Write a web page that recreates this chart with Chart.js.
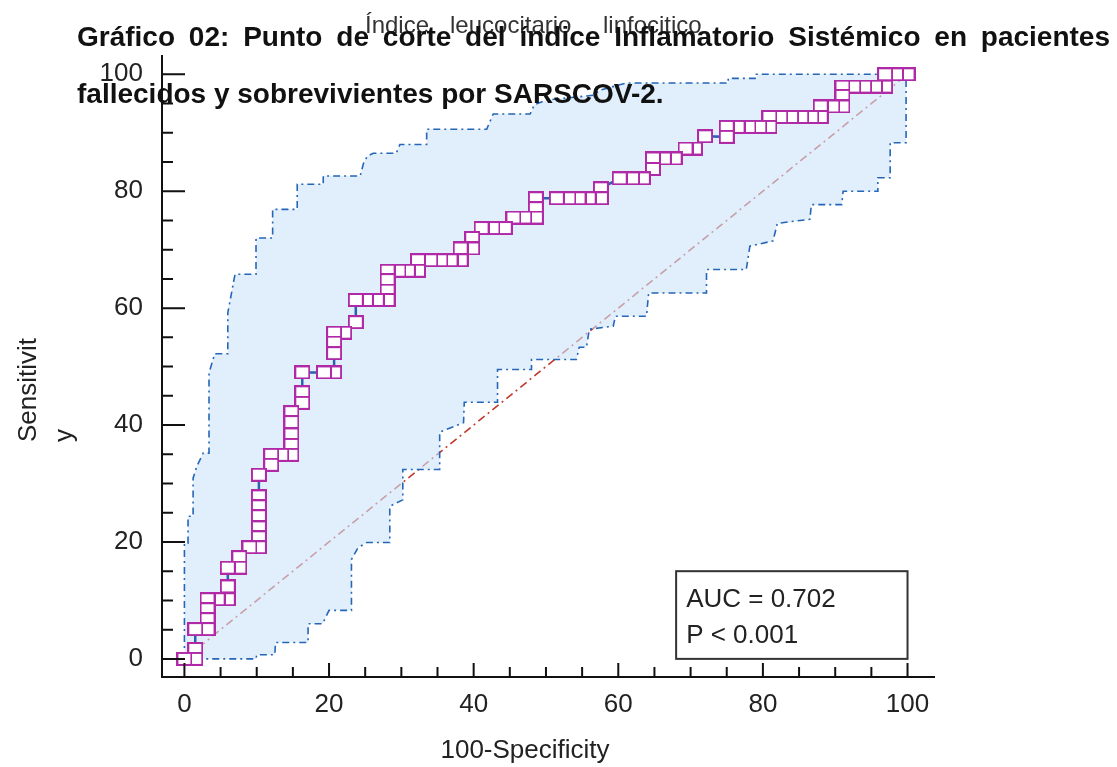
<!DOCTYPE html>
<html>
<head>
<meta charset="utf-8">
<script src="https://cdn.jsdelivr.net/npm/chart.js@4.4.1/dist/chart.umd.min.js"></script>
<style>
  html, body { margin: 0; padding: 0; background: #fff; }
  #wrap { width: 1117px; height: 767px; position: relative; }
</style>
</head>
<body>
<div id="wrap"><canvas id="rocChart"></canvas></div>
<script>
// Curva ROC: 100-Especificidad / Sensibilidad
const rocFpr = [0, 1.5, 1.5, 1.5, 3.2, 3.2, 3.2, 3.2, 4.6, 6.0, 6.0, 6.0, 7.6, 7.6, 9.0,
  10.3, 10.3, 10.3, 10.3, 10.3, 10.3, 10.3, 12.0, 12.0, 13.4, 14.8, 14.8, 14.8, 14.8, 14.8,
  16.3, 16.3, 16.3, 19.3, 20.7, 20.7, 20.7, 20.7, 22.1, 23.7, 23.7, 25.1, 26.6,
  28.1, 28.1, 28.1, 28.1, 29.6, 30.9, 32.3, 32.3, 34.0, 35.4, 36.8, 38.2, 38.2, 39.8, 39.8,
  41.1, 42.6, 44.3, 45.5, 47.0, 48.6, 48.6, 48.6, 51.5, 53.1, 54.5, 55.9, 57.6, 57.6,
  60.2, 61.9, 63.4, 64.8, 64.8, 66.3, 67.8, 69.3, 70.6, 72.0, 75.0, 75.0, 76.5, 78.0, 79.5,
  80.9, 80.9, 82.4, 83.9, 85.3, 86.7, 88.0, 88.0, 89.6, 91.0, 91.0, 91.0, 92.5, 94.0, 95.5,
  96.9, 96.9, 98.4, 100];
const rocSens = [0, 0, 1.7, 5.1, 5.1, 6.8, 8.5, 10.2, 10.2, 10.2, 12.4, 15.6, 15.6, 17.4, 19.1,
  19.1, 20.8, 22.5, 24.4, 26.1, 27.8, 31.5, 33.2, 34.9, 34.9, 34.9, 36.6, 38.4, 40.5, 42.2,
  43.8, 45.6, 49.0, 49.0, 49.0, 52.3, 54.1, 55.8, 55.8, 57.6, 61.4, 61.4, 61.4,
  61.4, 63.0, 64.8, 66.4, 66.4, 66.4, 66.4, 68.2, 68.2, 68.2, 68.2, 68.2, 70.2, 70.2, 72.0,
  73.7, 73.7, 73.7, 75.5, 75.5, 75.5, 77.1, 78.8, 78.8, 78.8, 78.8, 78.8, 78.8, 80.5,
  82.2, 82.2, 82.2, 83.8, 85.6, 85.6, 85.6, 87.3, 87.3, 89.4, 89.3, 91.0, 91.0, 91.0, 91.0,
  91.0, 92.7, 92.7, 92.7, 92.7, 92.7, 92.7, 94.5, 94.5, 94.5, 96.3, 97.9, 97.9, 97.9, 97.9,
  97.9, 100, 100, 100];

// Intervalo de confianza 95% (límite superior e inferior)
const upperX = [0, 0, 0.5, 0.5, 1.2, 1.2, 1.7, 2.6, 3.4, 3.4, 4.2, 6.0, 6.0, 7.0, 9.9, 9.9,
  12.2, 12.2, 15.6, 15.6, 19.2, 19.2, 24.3, 24.8, 25.3, 26.1, 29.3, 29.8, 33.5, 33.5,
  41.8, 42.7, 47.8, 48.4, 50.1, 56.5, 57.5, 61.1, 75.2, 75.2, 79.1, 79.1, 100];
const upperY = [0, 19.8, 19.8, 24.4, 24.4, 30.9, 32.9, 35.2, 35.2, 48.9, 52.2, 52.2, 59.2, 65.8,
  65.8, 72.0, 72.0, 76.9, 76.9, 81.2, 81.2, 82.6, 82.6, 84.9, 86.0, 86.5, 86.5, 88.0, 88.0,
  90.6, 90.6, 93.2, 93.2, 94.8, 95.6, 96.4, 97.3, 98.5, 98.5, 99.3, 99.3, 100, 100];
const lowerX = [0, 9.9, 10.0, 12.5, 12.6, 17.1, 17.1, 19.1, 20.0, 23.1, 23.1, 24.0, 25.2, 28.4,
  28.4, 30.2, 30.2, 35.3, 35.3, 38.6, 38.7, 43.3, 43.3, 48.0, 48.0, 54.2, 54.6, 55.6, 56.0,
  59.3, 59.6, 63.9, 64.2, 72.2, 72.2, 77.7, 78.2, 81.4, 82.0, 86.5, 86.7, 90.9, 91.1, 95.9,
  95.9, 97.6, 97.6, 99.8, 99.8, 100];
const lowerY = [0, 0, 0.7, 0.7, 2.8, 2.8, 6.0, 6.0, 8.3, 8.3, 17.0, 19.0, 19.9, 19.9, 26.1,
  27.2, 32.4, 32.4, 38.8, 40.4, 43.9, 43.9, 49.5, 49.5, 51.2, 51.2, 53.3, 53.3, 56.4, 56.9,
  58.6, 58.6, 62.6, 62.6, 66.6, 66.6, 70.6, 71.5, 74.5, 75.2, 77.7, 77.7, 80.0, 80.0, 82.3,
  82.3, 88.3, 88.3, 100, 100];

// Diagonal de referencia
const diagX = [0, 100];
const diagY = [0, 100];

// Etiquetas de los ejes
const tickValues = [0, 20, 40, 60, 80, 100];
const minorStep = 5;

const AUC_TEXT = "AUC = 0.702";
const P_TEXT = "P < 0.001";

const COLORS = {
  marker: "#b02aa8",
  rocLine: "#2a62b0",
  band: "rgba(205, 228, 252, 0.6)",
  bandBorder: "#2566b8",
  diag: "#c0392b",
  axis: "#111",
  text: "#222",
};

const FONT = "'Liberation Sans', Arial, sans-serif";

function toPoints(xs, ys) {
  return xs.map((x, i) => ({ x: x, y: ys[i] }));
}

// marcador cuadrado (16x14) blanco con borde magenta
function makeMarker() {
  const c = document.createElement("canvas");
  c.width = 16;
  c.height = 14;
  const g = c.getContext("2d");
  g.fillStyle = "#fff";
  g.fillRect(1, 1, 14, 12);
  g.strokeStyle = COLORS.marker;
  g.lineWidth = 2;
  g.strokeRect(1, 1, 14, 12);
  return c;
}

// se dibuja de arriba-derecha a abajo-izquierda para que los cuadros se solapen igual
const rocPoints = toPoints(rocFpr, rocSens).reverse();
const bandPoints = toPoints(upperX, upperY).concat(toPoints(lowerX, lowerY).reverse());

function drawJustified(ctx, words, x0, x1, y) {
  const widths = words.map((w) => ctx.measureText(w).width);
  const total = widths.reduce((a, b) => a + b, 0);
  const gap = (x1 - x0 - total) / (words.length - 1);
  let x = x0;
  words.forEach((w, i) => {
    ctx.fillText(w, x, y);
    x += widths[i] + gap;
  });
}

const decoPlugin = {
  id: "deco",
  afterDraw(chart) {
    const ctx = chart.ctx;
    const area = chart.chartArea;
    const xs = chart.scales.x;
    const ys = chart.scales.y;
    ctx.save();

    // ejes
    ctx.strokeStyle = COLORS.axis;
    ctx.lineWidth = 2;
    ctx.beginPath();
    ctx.moveTo(area.left, area.top);
    ctx.lineTo(area.left, area.bottom);
    ctx.lineTo(area.right, area.bottom);
    ctx.stroke();

    // marcas hacia dentro
    ctx.lineWidth = 2;
    ctx.beginPath();
    for (let v = 0; v <= 100; v += minorStep) {
      const major = tickValues.includes(v);
      const px = xs.getPixelForValue(v);
      ctx.moveTo(px, area.bottom);
      ctx.lineTo(px, area.bottom - (major ? 14 : 10));
      const py = ys.getPixelForValue(v);
      ctx.moveTo(area.left, py);
      ctx.lineTo(area.left + (major ? 23 : 11), py);
    }
    ctx.stroke();

    // cuadro AUC
    const bx0 = xs.getPixelForValue(68);
    const bx1 = xs.getPixelForValue(100);
    const by0 = ys.getPixelForValue(15);
    const by1 = ys.getPixelForValue(0);
    ctx.fillStyle = "#fff";
    ctx.fillRect(bx0, by0, bx1 - bx0, by1 - by0);
    ctx.strokeStyle = "#333";
    ctx.lineWidth = 2;
    ctx.strokeRect(bx0, by0, bx1 - bx0, by1 - by0);
    ctx.fillStyle = COLORS.text;
    ctx.font = "26px " + FONT;
    ctx.textBaseline = "alphabetic";
    ctx.textAlign = "left";
    ctx.fillText(AUC_TEXT, bx0 + 10, by0 + 36);
    ctx.fillText(P_TEXT, bx0 + 10, by0 + 72);

    // títulos de los ejes
    ctx.font = "26px " + FONT;
    ctx.textAlign = "center";
    ctx.fillText("100-Specificity", 525, 758);
    ctx.save();
    ctx.translate(36, 442);
    ctx.rotate(-Math.PI / 2);
    ctx.textAlign = "left";
    ctx.fillText("Sensitivit", 0, 0);
    ctx.fillText("y", 0, 36);
    ctx.restore();

    // título original del gráfico (queda debajo)
    ctx.fillStyle = "#333";
    ctx.font = "24px " + FONT;
    ctx.textAlign = "left";
    ctx.fillText("Índice", 365, 33);
    ctx.fillText("leucocitario", 450, 33);
    ctx.fillText("linfocitico", 603, 33);

    // título del documento
    ctx.fillStyle = "#111";
    ctx.font = "bold 28px " + FONT;
    drawJustified(ctx,
      "Gráfico 02: Punto de corte del índice Inflamatorio Sistémico en pacientes".split(" "),
      77, 1110, 46);
    ctx.fillText("fallecidos y sobrevivientes por SARSCOV-2.", 77, 103);

    ctx.restore();
  },
};

const tickFont = { family: FONT, size: 26 };

new Chart(document.getElementById("rocChart"), {
  type: "scatter",
  data: {
    datasets: [
      {
        label: "ROC",
        data: rocPoints,
        showLine: true,
        borderColor: COLORS.rocLine,
        borderWidth: 2.5,
        pointStyle: makeMarker(),
        pointRadius: 8,
        pointHoverRadius: 8,
        fill: false,
      },
      {
        label: "IC 95%",
        data: bandPoints,
        showLine: true,
        borderColor: COLORS.bandBorder,
        borderWidth: 1.6,
        borderDash: [7, 4, 2, 4],
        backgroundColor: COLORS.band,
        fill: "shape",
        pointRadius: 0,
        pointHoverRadius: 0,
      },
      {
        label: "Diagonal",
        data: toPoints(diagX, diagY),
        showLine: true,
        borderColor: COLORS.diag,
        borderWidth: 1.6,
        borderDash: [8, 4, 2, 4],
        pointRadius: 0,
        pointHoverRadius: 0,
        fill: false,
      },
    ],
  },
  options: {
    responsive: true,
    maintainAspectRatio: false,
    animation: false,
    layout: { padding: { left: 0, top: 55, right: 182, bottom: 0 } },
    plugins: {
      legend: { display: false },
      tooltip: { enabled: false },
    },
    scales: {
      x: {
        type: "linear",
        min: -3.1,
        max: 103.8,
        grid: { display: false, drawTicks: false },
        border: { display: false },
        ticks: { font: tickFont, color: COLORS.text, padding: 12, maxRotation: 0 },
        afterBuildTicks: (s) => { s.ticks = tickValues.map((v) => ({ value: v })); },
        afterFit: (s) => { s.height = 90; },
      },
      y: {
        type: "linear",
        min: -3.1,
        max: 103.3,
        grid: { display: false, drawTicks: false },
        border: { display: false },
        ticks: { font: tickFont, color: COLORS.text, padding: 19 },
        afterBuildTicks: (s) => { s.ticks = tickValues.map((v) => ({ value: v })); },
        afterFit: (s) => { s.width = 162; },
      },
    },
  },
  plugins: [decoPlugin],
});
</script>
</body>
</html>
